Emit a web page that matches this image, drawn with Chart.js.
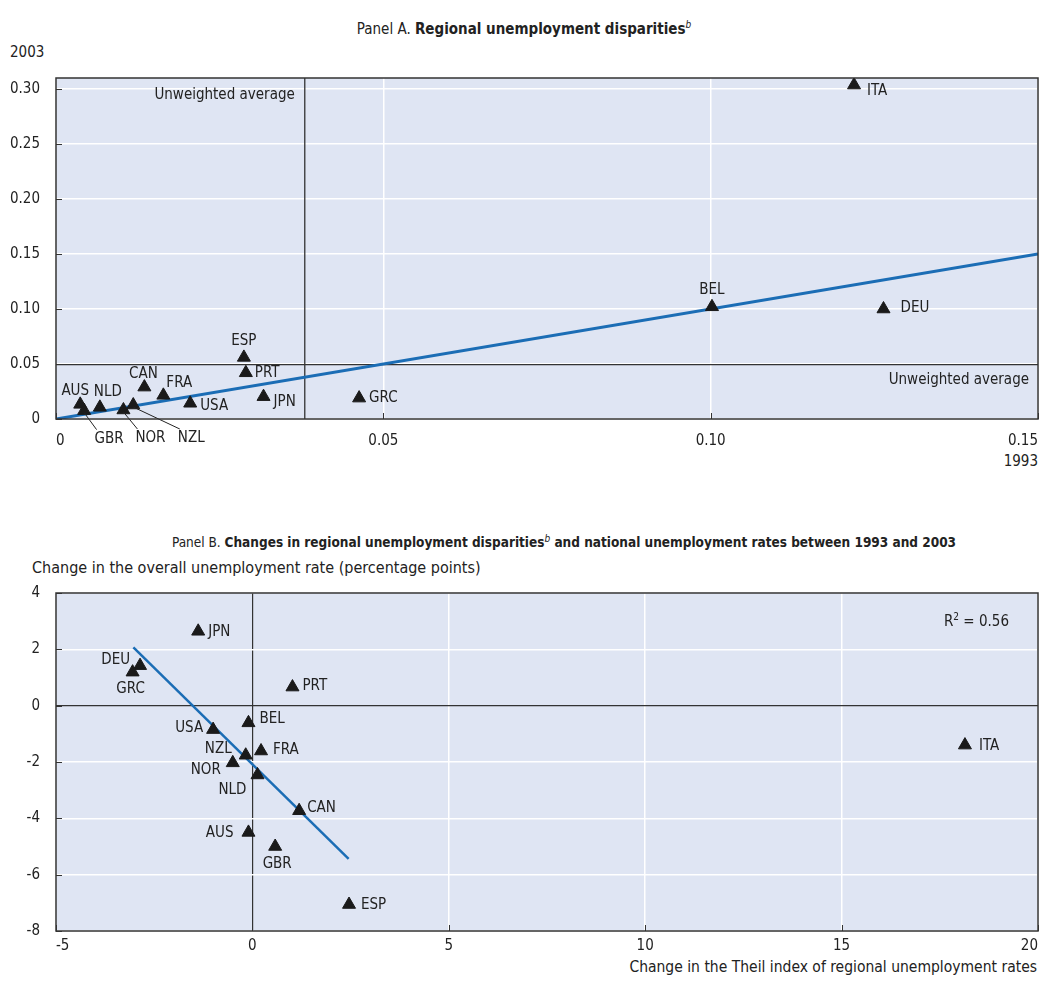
<!DOCTYPE html>
<html lang="en">
<head>
  <meta charset="UTF-8">
  <title>Regional unemployment disparities</title>
  <script src="https://cdn.jsdelivr.net/npm/chart.js"></script>
  <style>
    body { margin: 0; background: #fff; }
    #page { position: relative; width: 1040px; height: 984px; overflow: hidden;
            font-family: 'DejaVu Sans Condensed', 'Liberation Sans Narrow', sans-serif; color: #222; }
    canvas { position: absolute; left: 0; }
    .txt { position: absolute; white-space: nowrap; font-size: 15px; line-height: 20px; }
    .title { transform: translateX(-50%); }
    .title sup { font-style: italic; font-weight: normal; font-size: 10px; }
  </style>
</head>
<body>
<div id="page">
  <div class="txt title" style="left:524px; top:15px; font-size:15px;">Panel A. <b>Regional unemployment disparities</b><sup>b</sup></div>
  <div class="txt" style="left:10px; top:42px;">2003</div>
  <div class="txt" style="right:2px; top:451px;">1993</div>
  <canvas id="chartA" width="1040" height="480" style="top:0"></canvas>

  <div class="txt title" style="left:564px; top:528px; font-size:13.5px;">Panel B. <b>Changes in regional unemployment disparities<sup>b</sup> and national unemployment rates between 1993 and 2003</b></div>
  <div class="txt" style="left:32px; top:558px; font-size:16px;">Change in the overall unemployment rate (percentage points)</div>
  <div class="txt" style="right:3px; top:957px; font-size:15.5px;">Change in the Theil index of regional unemployment rates</div>
  <canvas id="chartB" width="1040" height="504" style="top:480px"></canvas>
  <div class="txt" style="right:31px; top:607px;">R<sup style="font-size:10px">2</sup> = 0.56</div>
</div>

<script>
  // Panel A: Theil index of regional unemployment rates, 1993 vs 2003
  const countriesA = ['ITA', 'BEL', 'DEU', 'ESP', 'PRT', 'JPN', 'GRC', 'CAN', 'FRA', 'USA', 'AUS', 'NLD', 'GBR', 'NOR', 'NZL'];
  const theil1993 = [0.1219, 0.1002, 0.1264, 0.0287, 0.0290, 0.0317, 0.0463, 0.0135, 0.0164, 0.0205, 0.0037, 0.0067, 0.0043, 0.0103, 0.0118];
  const theil2003 = [0.3036, 0.1020, 0.1000, 0.0560, 0.0420, 0.0203, 0.0190, 0.0290, 0.0215, 0.0143, 0.0133, 0.0106, 0.0076, 0.0082, 0.0127];
  const avg1993 = 0.038;
  const avg2003 = 0.0495;
  const fitA_x = [0, 0.15];
  const fitA_y = [0, 0.15];
  const xTicksA = [0, 0.05, 0.10, 0.15];
  const xTickLabelsA = ['0', '0.05', '0.10', '0.15'];
  const yTicksA = [0, 0.05, 0.10, 0.15, 0.20, 0.25, 0.30];
  const yTickLabelsA = ['0', '0.05', '0.10', '0.15', '0.20', '0.25', '0.30'];

  // Panel B: change 1993-2003
  const countriesB = ['JPN', 'DEU', 'GRC', 'PRT', 'BEL', 'USA', 'NZL', 'FRA', 'NOR', 'NLD', 'CAN', 'AUS', 'GBR', 'ESP', 'ITA'];
  const dTheil = [-1.38, -2.86, -3.05, 1.02, -0.10, -1.00, -0.17, 0.22, -0.50, 0.13, 1.19, -0.10, 0.58, 2.46, 18.14];
  const dUnemp = [2.64, 1.42, 1.19, 0.66, -0.61, -0.85, -1.76, -1.61, -2.03, -2.46, -3.73, -4.50, -5.00, -7.06, -1.40];
  const fitB_x = [-3.03, 2.45];
  const fitB_y = [2.07, -5.44];
  const xTicksB = [-5, 0, 5, 10, 15, 20];
  const yTicksB = [-8, -6, -4, -2, 0, 2, 4];

  // label placement: [dx, dy, align, leader]
  const placeA = [[13, 6, 'left'], [0, -17, 'center'], [17, -1, 'left'], [0, -16, 'center'], [9, 0, 'left'],
                  [10, 5, 'left'], [10, 0, 'left'], [-1, -13, 'center'], [3, -12, 'left'], [10, 3, 'left'],
                  [-5, -13, 'center'], [8, -15, 'center'], [25, 28, 'center', true], [27, 28, 'center', true], [58, 33, 'center', true]];
  const placeB = [[10, 1, 'left'], [-10, -6, 'right'], [-2, 17, 'center'], [10, -1, 'left'], [11, -4, 'left'],
                  [-10, -1, 'right'], [-14, -6, 'right'], [12, -1, 'left'], [-12, 7, 'right'], [-11, 15, 'right'],
                  [8, -3, 'left'], [-15, 1, 'right'], [2, 18, 'center'], [12, 1, 'left'], [14, 1, 'left']];

  const FONT_FAMILY = "'DejaVu Sans Condensed', 'Liberation Sans Narrow', sans-serif";
  const BG = '#dfe5f3';
  const DARK = '#333333';
  const BLUE = '#1b6db5';

  Chart.defaults.font.family = FONT_FAMILY;
  Chart.defaults.font.size = 15;
  Chart.defaults.color = '#222';

  const toXY = (xs, ys) => xs.map((x, i) => ({ x: x, y: ys[i] }));

  // plot background + frame + inner tick marks
  const framePlugin = {
    id: 'frame',
    beforeDraw(chart) {
      const { ctx, chartArea: a } = chart;
      ctx.save();
      ctx.fillStyle = BG;
      ctx.fillRect(a.left, a.top, a.right - a.left, a.bottom - a.top);
      ctx.restore();
    },
    afterDraw(chart) {
      const { ctx, chartArea: a, scales } = chart;
      ctx.save();
      ctx.strokeStyle = DARK;
      ctx.lineWidth = 1.5;
      ctx.strokeRect(a.left, a.top, a.right - a.left, a.bottom - a.top);
      ctx.lineWidth = 1;
      ctx.beginPath();
      scales.x.ticks.forEach(t => {
        const px = Math.round(scales.x.getPixelForValue(t.value)) + 0.5;
        ctx.moveTo(px, a.bottom); ctx.lineTo(px, a.bottom - 6);
      });
      scales.y.ticks.forEach(t => {
        const py = Math.round(scales.y.getPixelForValue(t.value)) + 0.5;
        ctx.moveTo(a.left, py); ctx.lineTo(a.left + 6, py);
      });
      ctx.stroke();
      ctx.restore();
    }
  };

  // country labels next to markers
  const labelPlugin = {
    id: 'pointLabels',
    afterDatasetsDraw(chart, args, opts) {
      const { ctx } = chart;
      const meta = chart.getDatasetMeta(0);
      ctx.save();
      ctx.font = '15px ' + FONT_FAMILY;
      ctx.fillStyle = '#222';
      ctx.textBaseline = 'middle';
      meta.data.forEach((pt, i) => {
        const p = opts.place[i];
        const x = pt.x + p[0], y = pt.y + p[1];
        ctx.textAlign = p[2];
        if (p[3]) {
          const w = ctx.measureText(opts.names[i]).width;
          ctx.strokeStyle = '#222';
          ctx.lineWidth = 1;
          ctx.beginPath();
          ctx.moveTo(pt.x, pt.y + 2);
          ctx.lineTo(x - w / 2 + 2, y - 9);
          ctx.stroke();
        }
        ctx.fillText(opts.names[i], x, y);
      });
      (opts.extra || []).forEach(fn => fn(chart, ctx));
      ctx.restore();
    }
  };

  function fixTicks(values) {
    return scale => { scale.ticks = values.map(v => ({ value: v })); };
  }
  function fitX(h) {
    return s => { s.height = h; s.paddingLeft = 0; s.paddingRight = 0; };
  }
  function fitY(s) {
    s.width = 56; s.paddingTop = 0; s.paddingBottom = 0;
  }

  // Panel A
  new Chart(document.getElementById('chartA'), {
    type: 'scatter',
    data: {
      datasets: [
        { data: toXY(theil1993, theil2003), pointStyle: 'triangle', pointRadius: 7.5,
          backgroundColor: '#1a1a1a', borderColor: '#1a1a1a', borderWidth: 1 },
        { type: 'line', data: toXY(fitA_x, fitA_y), borderColor: BLUE, borderWidth: 3, pointRadius: 0 },
        { type: 'line', data: toXY([avg1993, avg1993], [0, 0.31]), borderColor: DARK, borderWidth: 1.3, pointRadius: 0 },
        { type: 'line', data: toXY([0, 0.15], [avg2003, avg2003]), borderColor: DARK, borderWidth: 1.3, pointRadius: 0 }
      ]
    },
    options: {
      responsive: false,
      animation: false,
      layout: { autoPadding: false, padding: { top: 78, right: 2, left: 0, bottom: 0 } },
      plugins: {
        legend: { display: false },
        tooltip: { enabled: false },
        pointLabels: {
          names: countriesA,
          place: placeA,
          extra: [(chart, ctx) => {
            const { chartArea: a, scales } = chart;
            ctx.textAlign = 'right';
            ctx.fillText('Unweighted average', scales.x.getPixelForValue(avg1993) - 10, a.top + 17);
            ctx.fillText('Unweighted average', a.right - 9, scales.y.getPixelForValue(avg2003) + 16);
          }]
        }
      },
      scales: {
        x: {
          type: 'linear', min: 0, max: 0.15,
          afterBuildTicks: fixTicks(xTicksA),
          afterFit: fitX(61),
          grid: { color: '#ffffff', lineWidth: 1.5, drawTicks: false },
          border: { display: false },
          ticks: { align: 'inner', padding: 13, callback: (v, i) => xTickLabelsA[i] }
        },
        y: {
          type: 'linear', min: 0, max: 0.31,
          afterBuildTicks: fixTicks(yTicksA),
          afterFit: fitY,
          grid: { color: '#ffffff', lineWidth: 1.5, drawTicks: false },
          border: { display: false },
          ticks: { padding: 16, callback: (v, i) => yTickLabelsA[i] }
        }
      }
    },
    plugins: [framePlugin, labelPlugin]
  });

  // Panel B
  new Chart(document.getElementById('chartB'), {
    type: 'scatter',
    data: {
      datasets: [
        { data: toXY(dTheil, dUnemp), pointStyle: 'triangle', pointRadius: 7.5,
          backgroundColor: '#1a1a1a', borderColor: '#1a1a1a', borderWidth: 1 },
        { type: 'line', data: toXY(fitB_x, fitB_y), borderColor: BLUE, borderWidth: 2.5, pointRadius: 0 }
      ]
    },
    options: {
      responsive: false,
      animation: false,
      layout: { autoPadding: false, padding: { top: 113, right: 2, left: 0, bottom: 0 } },
      plugins: {
        legend: { display: false },
        tooltip: { enabled: false },
        pointLabels: { names: countriesB, place: placeB }
      },
      scales: {
        x: {
          type: 'linear', min: -5, max: 20,
          afterBuildTicks: fixTicks(xTicksB),
          afterFit: fitX(53),
          grid: { color: c => c.tick && c.tick.value === 0 ? DARK : '#ffffff',
                  lineWidth: c => c.tick && c.tick.value === 0 ? 1.2 : 1.5, drawTicks: false },
          border: { display: false },
          ticks: { align: 'inner', padding: 6 }
        },
        y: {
          type: 'linear', min: -8, max: 4,
          afterBuildTicks: fixTicks(yTicksB),
          afterFit: fitY,
          grid: { color: c => c.tick && c.tick.value === 0 ? DARK : '#ffffff',
                  lineWidth: c => c.tick && c.tick.value === 0 ? 1.2 : 1.5, drawTicks: false },
          border: { display: false },
          ticks: { padding: 16 }
        }
      }
    },
    plugins: [framePlugin, labelPlugin]
  });
</script>
</body>
</html>
